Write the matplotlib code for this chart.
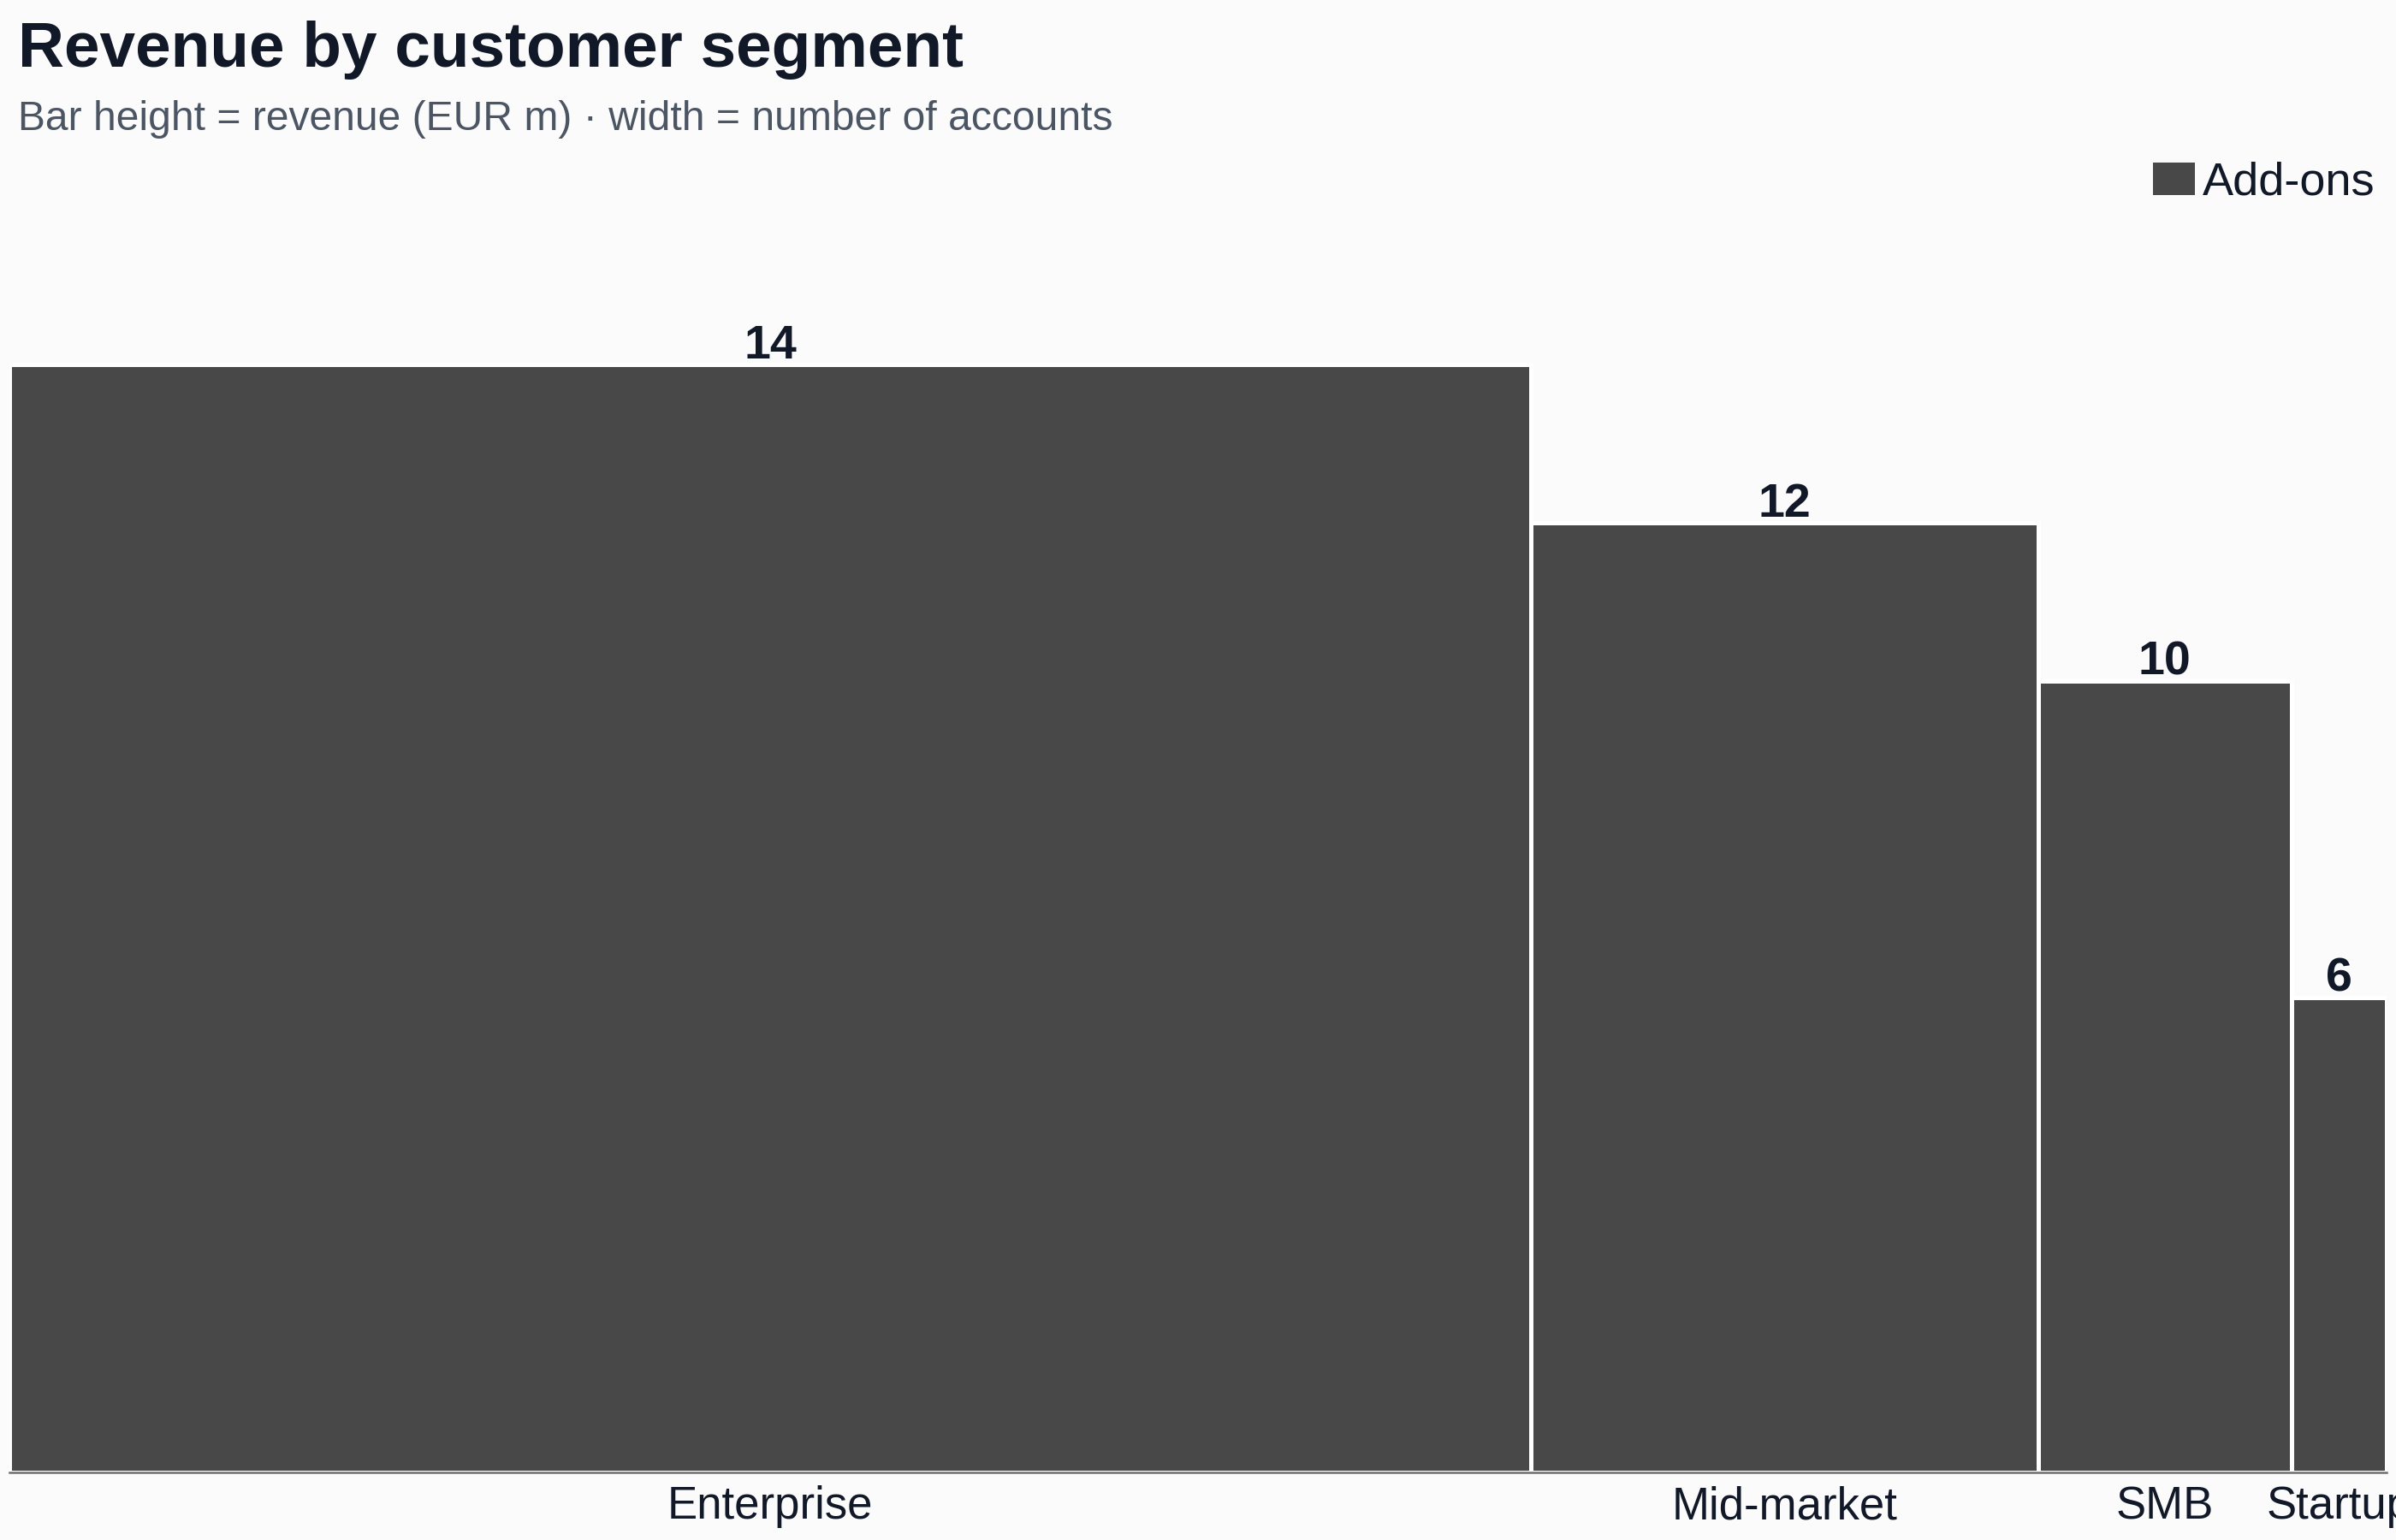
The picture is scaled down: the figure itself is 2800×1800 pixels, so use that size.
import matplotlib
matplotlib.use('Agg')
import matplotlib.pyplot as plt
import numpy as np
from matplotlib.patches import Patch

# data
segments = ['Enterprise', 'Mid-market', 'SMB', 'Startup']
revenue = [14, 12, 10, 6]          # EUR m -> bar height
accounts = [480, 160, 80, 30]      # number of accounts -> bar width
series_name = 'Add-ons'

bg = '#fbfbfb'
bar_col = '#484848'
ink = '#111827'
sub_col = '#4b5563'

plt.rcParams['font.family'] = ['Liberation Sans', 'DejaVu Sans']

fig = plt.figure(figsize=(14, 9), dpi=200, facecolor=bg)
W, H = 2800, 1800
# axes placed in pixel terms
left, right, bottom, top = 11, 2789, 1721, 300
ax = fig.add_axes([left / W, 1 - bottom / H, (right - left) / W, (bottom - top) / H])
ax.set_facecolor(bg)

lefts = np.concatenate([[0], np.cumsum(accounts)[:-1]])
centers = lefts + np.array(accounts) / 2
ax.bar(lefts, revenue, width=accounts, align='edge', color=bar_col,
       edgecolor='white', linewidth=1.8, zorder=2)

for c, v in zip(centers, revenue):
    ax.annotate(f'{v}', (c, v), xytext=(0, 2.6), textcoords='offset points',
                ha='center', va='baseline', fontsize=20, fontweight='bold', color=ink)

ax.set_xlim(0, sum(accounts))
ax.set_ylim(0, (bottom - top) / 92.5)
ax.set_xticks(centers)
ax.set_xticklabels(segments, fontsize=19, color=ink)
ax.tick_params(axis='x', length=0, pad=5.5)
ax.set_yticks([])
for s in ['top', 'right', 'left']:
    ax.spines[s].set_visible(False)
ax.spines['bottom'].set_color('#6e6e6e')
ax.spines['bottom'].set_linewidth(0.9)
ax.spines['bottom'].set_zorder(3)

fig.text(21 / W, 1 - 78 / H, 'Revenue by customer segment', fontsize=26.9,
         fontweight='bold', color=ink, va='baseline', ha='left')
fig.text(21 / W, 1 - 152 / H, 'Bar height = revenue (EUR m) \u00b7 width = number of accounts',
         fontsize=17.3, color=sub_col, va='baseline', ha='left')

handle = Patch(facecolor=bar_col, edgecolor='none')
fig.legend([handle], [series_name], loc='upper right', bbox_to_anchor=(2776 / W, 1 - 189 / H),
           frameon=False, fontsize=19.5, handlelength=0.9, handleheight=0.68,
           handletextpad=0.17, borderpad=0, borderaxespad=0, labelcolor=ink)

fig.savefig('out.png', dpi=200, facecolor=bg)
